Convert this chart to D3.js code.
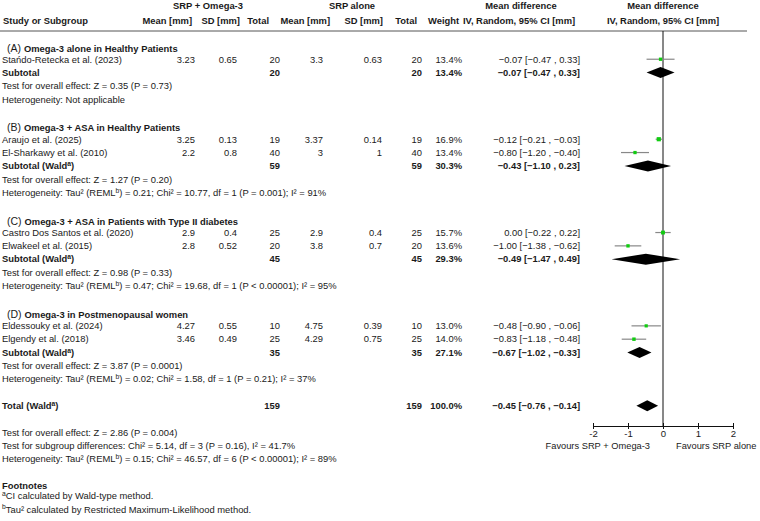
<!DOCTYPE html>
<html>
<head>
<meta charset="utf-8">
<script src="https://cdn.jsdelivr.net/npm/d3@7"></script>
<style>
  html, body { margin: 0; padding: 0; background: #fff; }
  svg { display: block; }
  text { font-family: "Liberation Sans", Arial, sans-serif; fill: #1a1a1a; }
</style>
</head>
<body>
<svg id="chart" width="760" height="521"></svg>
<script>
// ---------------- DATA ----------------
const groupLetters = ["(A)", "(B)", "(C)", "(D)"];
const groupTitles = [
  "Omega-3 alone in Healthy Patients",
  "Omega-3 + ASA in Healthy Patients",
  "Omega-3 + ASA in Patients with Type II diabetes",
  "Omega-3 in Postmenopausal women"
];
const studyNames = [
  "Stańdo-Retecka et al. (2023)",
  "Araujo et al. (2025)",
  "El-Sharkawy et al. (2010)",
  "Castro Dos Santos et al. (2020)",
  "Elwakeel et al. (2015)",
  "Eldessouky et al. (2024)",
  "Elgendy et al. (2018)"
];
const studyGroup = [0, 1, 1, 2, 2, 3, 3];
const meanExp = ["3.23", "3.25", "2.2", "2.9", "2.8", "4.27", "3.46"];
const sdExp   = ["0.65", "0.13", "0.8", "0.4", "0.52", "0.55", "0.49"];
const nExp    = [20, 19, 40, 25, 20, 10, 25];
const meanCtl = ["3.3", "3.37", "3", "2.9", "3.8", "4.75", "4.29"];
const sdCtl   = ["0.63", "0.14", "1", "0.4", "0.7", "0.39", "0.75"];
const nCtl    = [20, 19, 40, 25, 20, 10, 25];
const weights = [13.4, 16.9, 13.4, 15.7, 13.6, 13.0, 14.0];
const md      = [-0.07, -0.12, -0.80, 0.00, -1.00, -0.48, -0.83];
const ciLow   = [-0.47, -0.21, -1.20, -0.22, -1.38, -0.90, -1.18];
const ciHigh  = [0.33, -0.03, -0.40, 0.22, -0.62, -0.06, -0.48];

const subWald   = [false, true, true, true];
const subNExp   = [20, 59, 45, 35];
const subNCtl   = [20, 59, 45, 35];
const subWeight = [13.4, 30.3, 29.3, 27.1];
const subMd     = [-0.07, -0.43, -0.49, -0.67];
const subLow    = [-0.47, -1.10, -1.47, -1.02];
const subHigh   = [0.33, 0.23, 0.49, -0.33];
const subTest   = ["Z = 0.35 (P = 0.73)", "Z = 1.27 (P = 0.20)", "Z = 0.98 (P = 0.33)", "Z = 3.87 (P = 0.0001)"];
const subHet    = [
  null,
  ["0.21", "Chi² = 10.77, df = 1 (P = 0.001); I² = 91%"],
  ["0.47", "Chi² = 19.68, df = 1 (P < 0.00001); I² = 95%"],
  ["0.02", "Chi² = 1.58, df = 1 (P = 0.21); I² = 37%"]
];

const totalN = [159, 159];
const totalWeight = 100.0;
const totalMd = [-0.45, -0.76, -0.14];
const totalTest = "Z = 2.86 (P = 0.004)";
const subgroupDiff = "Chi² = 5.14, df = 3 (P = 0.16), I² = 41.7%";
const totalHet = ["0.15", "Chi² = 46.57, df = 6 (P < 0.00001); I² = 89%"];

const axisTicks = [-2, -1, 0, 1, 2];
const favoursLeft = "Favours SRP + Omega-3";
const favoursRight = "Favours SRP alone";

// ---------------- LAYOUT ----------------
const svg = d3.select("#chart");
const FS = 9.4;
const rowY = d3.scaleLinear().domain([0, 35]).range([45.9, 512.5]);
const x = d3.scaleLinear().domain([-2, 2]).range([593, 733]);
const axisY = 426;
const headerLineY = 31;

const col = {
  name: 2, meanE: 195, sdE: 237, nE: 280, meanC: 323, sdC: 382, nC: 422, w: 462, ci: 580
};

function txt(xp, yp, s, opts = {}) {
  const t = svg.append("text")
    .attr("x", xp).attr("y", yp).attr("dy", "0.35em")
    .attr("font-size", opts.size || FS)
    .attr("font-weight", opts.bold ? "bold" : "normal")
    .attr("text-anchor", opts.anchor || "start")
    .text(s);
  return t;
}
const fmt2 = d3.format(".2f");
const ciText = (m, l, h) => `${fmt2(m)} [${fmt2(l)} , ${fmt2(h)}]`;

// Header
const h1 = 6, h2 = 21;
txt(208, h1, "SRP + Omega-3", { bold: true, anchor: "middle" });
txt(352, h1, "SRP alone", { bold: true, anchor: "middle" });
txt(521, h1, "Mean difference", { bold: true, anchor: "middle" });
txt(663, h1, "Mean difference", { bold: true, anchor: "middle" });
txt(3, h2, "Study or Subgroup", { bold: true });
txt(192, h2, "Mean [mm]", { bold: true, anchor: "end" });
txt(240, h2, "SD [mm]", { bold: true, anchor: "end" });
txt(269, h2, "Total", { bold: true, anchor: "end" });
txt(330, h2, "Mean [mm]", { bold: true, anchor: "end" });
txt(383, h2, "SD [mm]", { bold: true, anchor: "end" });
txt(417, h2, "Total", { bold: true, anchor: "end" });
txt(428, h2, "Weight", { bold: true });
txt(519, h2, "IV, Random, 95% CI [mm]", { bold: true, anchor: "middle" });
txt(663, h2, "IV, Random, 95% CI [mm]", { bold: true, anchor: "middle" });

svg.append("line").attr("x1", 0).attr("x2", 747).attr("y1", headerLineY).attr("y2", headerLineY)
  .attr("stroke", "#555").attr("stroke-width", 1);

// zero line
svg.append("line").attr("x1", x(0)).attr("x2", x(0)).attr("y1", headerLineY).attr("y2", axisY)
  .attr("stroke", "#111").attr("stroke-width", 1);

function richText(xp, yp, parts, opts = {}) {
  const t = svg.append("text").attr("x", xp).attr("y", yp).attr("dy", "0.35em")
    .attr("font-size", FS).attr("font-weight", opts.bold ? "bold" : "normal");
  let shifted = false;
  parts.forEach(([s, sup]) => {
    const ts = t.append("tspan").text(s);
    if (sup && !shifted) { ts.attr("font-size", FS * 0.72).attr("dy", -3.2); shifted = true; }
    else if (!sup && shifted) { ts.attr("dy", 3.2); shifted = false; }
    else if (sup) ts.attr("font-size", FS * 0.72);
  });
  return t;
}

function diamond(yc, m, l, h) {
  const hh = 5.5;
  svg.append("path")
    .attr("d", `M${x(l)},${yc} L${x(m)},${yc - hh} L${x(h)},${yc} L${x(m)},${yc + hh} Z`)
    .attr("fill", "#000");
}

const sqSize = d3.scaleLinear().domain([13, 17]).range([3.2, 4.2]);

let r = 0;
groupTitles.forEach((title, g) => {
  const yH = rowY(r);
  const th = svg.append("text").attr("x", 7).attr("y", yH).attr("dy", "0.35em");
  th.append("tspan").attr("font-size", 10.5).text(groupLetters[g] + " ");
  th.append("tspan").attr("font-size", FS).attr("font-weight", "bold").text(title);
  r++;
  studyNames.forEach((name, i) => {
    if (studyGroup[i] !== g) return;
    const yy = rowY(r);
    txt(col.name, yy, name);
    txt(col.meanE, yy, meanExp[i], { anchor: "end" });
    txt(col.sdE, yy, sdExp[i], { anchor: "end" });
    txt(col.nE, yy, nExp[i], { anchor: "end" });
    txt(col.meanC, yy, meanCtl[i], { anchor: "end" });
    txt(col.sdC, yy, sdCtl[i], { anchor: "end" });
    txt(col.nC, yy, nCtl[i], { anchor: "end" });
    txt(col.w, yy, weights[i].toFixed(1) + "%", { anchor: "end" });
    txt(col.ci, yy, ciText(md[i], ciLow[i], ciHigh[i]), { anchor: "end" });
    svg.append("line").attr("x1", x(ciLow[i])).attr("x2", x(ciHigh[i]))
      .attr("y1", yy).attr("y2", yy).attr("stroke", "#888").attr("stroke-width", 1.2);
    const s = sqSize(weights[i]);
    svg.append("rect").attr("x", x(md[i]) - s / 2).attr("y", yy - s / 2)
      .attr("width", s).attr("height", s).attr("fill", "#11cc11");
    r++;
  });
  const ys = rowY(r);
  if (subWald[g]) richText(col.name, ys, [["Subtotal (Wald", false], ["a", true], [")", false]], { bold: true });
  else txt(col.name, ys, "Subtotal", { bold: true });
  txt(col.nE, ys, subNExp[g], { anchor: "end", bold: true });
  txt(col.nC, ys, subNCtl[g], { anchor: "end", bold: true });
  txt(col.w, ys, subWeight[g].toFixed(1) + "%", { anchor: "end", bold: true });
  txt(col.ci, ys, ciText(subMd[g], subLow[g], subHigh[g]), { anchor: "end", bold: true });
  diamond(ys, subMd[g], subLow[g], subHigh[g]);
  r++;
  txt(col.name, rowY(r), "Test for overall effect: " + subTest[g]);
  r++;
  if (subHet[g]) {
    richText(col.name, rowY(r), [["Heterogeneity: Tau² (REML", false], ["b", true], [") = " + subHet[g][0] + "; " + subHet[g][1], false]]);
  } else {
    txt(col.name, rowY(r), "Heterogeneity: Not applicable");
  }
  r++;
  r++; // blank
});

// Total
const yT = rowY(r);
richText(col.name, yT, [["Total (Wald", false], ["a", true], [")", false]], { bold: true });
txt(col.nE, yT, totalN[0], { anchor: "end", bold: true });
txt(col.nC, yT, totalN[1], { anchor: "end", bold: true });
txt(col.w, yT, totalWeight.toFixed(1) + "%", { anchor: "end", bold: true });
txt(col.ci, yT, ciText(totalMd[0], totalMd[1], totalMd[2]), { anchor: "end", bold: true });
diamond(yT, totalMd[0], totalMd[1], totalMd[2]);
r += 2;
txt(col.name, rowY(r), "Test for overall effect: " + totalTest); r++;
txt(col.name, rowY(r), "Test for subgroup differences: " + subgroupDiff); r++;
richText(col.name, rowY(r), [["Heterogeneity: Tau² (REML", false], ["b", true], [") = " + totalHet[0] + "; " + totalHet[1], false]]); r++;
r++;
txt(col.name, rowY(r), "Footnotes", { bold: true }); r++;
richText(col.name, rowY(r), [["a", true], ["CI calculated by Wald-type method.", false]]); r++;
richText(col.name, rowY(r), [["b", true], ["Tau² calculated by Restricted Maximum-Likelihood method.", false]]);

// Axis
const axis = d3.axisBottom(x).tickValues(axisTicks).tickSize(3).tickSizeOuter(0).tickFormat(d3.format("d"));
const ag = svg.append("g").attr("transform", `translate(0,${axisY})`).call(axis);
ag.select(".domain").attr("stroke", "#111");
ag.selectAll(".tick line").attr("stroke", "#111").attr("y1", -3).attr("y2", 3);
ag.selectAll(".tick text").attr("font-family", "Liberation Sans, Arial, sans-serif")
  .attr("font-size", 9.6).attr("fill", "#1a1a1a").attr("y", 4).attr("dy", "0.71em")
  .text(d => d < 0 ? "-" + Math.abs(d) : d);

txt(x(0) - 13, axisY + 20, favoursLeft, { anchor: "end", size: 9.3 });
txt(x(0) + 13, axisY + 20, favoursRight, { size: 9.3 });
</script>
</body>
</html>
